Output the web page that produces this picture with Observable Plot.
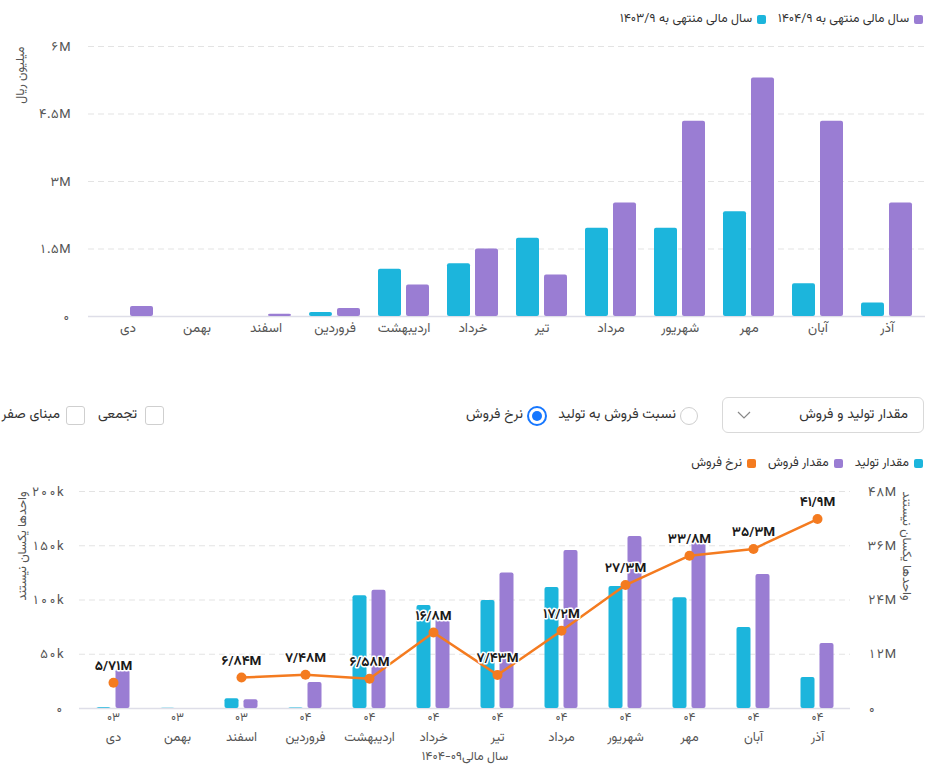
<!DOCTYPE html>
<html><head><meta charset="utf-8">
<script src="https://cdn.jsdelivr.net/npm/d3@7"></script>
<script src="https://cdn.jsdelivr.net/npm/@observablehq/plot@0.6"></script>
<style>
body{margin:0;background:#fff;}
#wrap{position:relative;width:952px;height:770px;overflow:hidden;font-family:"Vazirmatn","Noto Sans Arabic","DejaVu Sans",sans-serif;color:#333;}
.abs{position:absolute;}
.legend{position:absolute;display:flex;flex-direction:row;direction:rtl;align-items:center;gap:12px;font-size:12.5px;color:#333;white-space:nowrap;}
.legend .item{display:flex;align-items:center;gap:5px;}
.legend .sw{width:9px;height:9px;border-radius:2px;display:inline-block;}
.lbl{position:absolute;font-size:14px;color:#333;white-space:nowrap;direction:rtl;line-height:20px;}
.box{position:absolute;width:17px;height:17px;border:1px solid #cfcfcf;border-radius:3px;background:#fff;}
.radio{position:absolute;width:18px;height:18px;border:1px solid #cfcfcf;border-radius:50%;background:#fff;box-sizing:border-box;}
.radio.on{border:2px solid #1677ff;}
.radio.on::after{content:"";position:absolute;left:3px;top:3px;width:10px;height:10px;border-radius:50%;background:#1677ff;}
.select{position:absolute;left:722px;top:397px;width:202px;height:36px;border:1px solid #d9d9d9;border-radius:6px;box-sizing:border-box;}
</style></head>
<body><div id="wrap">
<div id="topChart" class="abs" style="left:0;top:0"></div>
<div id="botChart" class="abs" style="left:0;top:470px"></div>
<div id="topLegend" class="legend" style="right:29px;top:9px;"></div>
<div id="botLegend" class="legend" style="right:29px;top:453px;"></div>
<div id="controls"></div>
</div>
<script>
const FONT = '"Vazirmatn","Noto Sans Arabic","DejaVu Sans",sans-serif';
const CYAN = "#1cb5dc", PURPLE = "#9a7dd3", ORANGE = "#f47b20";

// ---- data ----
const months = ["دی","بهمن","اسفند","فروردین","اردیبهشت","خرداد","تیر","مرداد","شهریور","مهر","آبان","آذر"];
const yearCodes = ["۰۳","۰۳","۰۳","۰۴","۰۴","۰۴","۰۴","۰۴","۰۴","۰۴","۰۴","۰۴"];
// top chart, million rials
const prevYear = [0, 0, 0, 0.09, 1.05, 1.17, 1.74, 1.96, 1.96, 2.33, 0.73, 0.3];
const currYear = [0.22, 0, 0.05, 0.18, 0.7, 1.5, 0.92, 2.52, 4.34, 5.3, 4.34, 2.52];
const topTicks = [0, 1.5, 3, 4.5, 6];
const topSeriesNames = ["سال مالی منتهی به ۱۴۰۴/۹", "سال مالی منتهی به ۱۴۰۳/۹"];
// bottom chart, thousand units and million rials
const production = [0.8, 0.3, 9, 0.5, 104, 95, 99.5, 111.5, 112.4, 102, 74.6, 28.6];
const sales = [35.7, 0, 8, 24, 109, 82, 125, 145.6, 158.5, 153, 123.5, 60];
const rate = [5.71, null, 6.84, 7.48, 6.58, 16.8, 7.43, 17.2, 27.3, 33.8, 35.3, 41.9];
const leftTicks = [0, 50, 100, 150, 200];
const rightTicks = [0, 12, 24, 36, 48];
const botSeriesNames = ["مقدار تولید", "مقدار فروش", "نرخ فروش"];
const unitLabel = "واحدها یکسان نیستند";
const topYLabel = "میلیون ریال";
const xTitle = "سال مالی۰۹-۱۴۰۴";

const faDigits = "۰۱۲۳۴۵۶۷۸۹";
const fa = s => String(s).replace(/[0-9]/g, d => faDigits[+d]);

// ---- top chart ----
const prevRows = months.map((m, i) => ({month: m, v: prevYear[i]}));
const currRows = months.map((m, i) => ({month: m, v: currYear[i]}));
const topPlot = Plot.plot({
  width: 952, height: 345,
  marginTop: 46, marginBottom: 29, marginLeft: 88, marginRight: 27,
  style: {fontFamily: FONT, fontSize: "13px", color: "#555", background: "transparent"},
  x: {domain: months, paddingInner: 0.67, paddingOuter: 0.335, axis: null},
  y: {domain: [0, 6], axis: null},
  marks: [
    Plot.ruleY(topTicks.filter(d => d > 0), {stroke: "#e3e3e3", strokeDasharray: "6,4"}),
    Plot.ruleY([0], {stroke: "#dedee8", strokeWidth: 1.5}),
    Plot.barY(prevRows, {x: "month", y: "v", fill: CYAN, dx: -14, rx: 2}),
    Plot.barY(currRows, {x: "month", y: "v", fill: PURPLE, dx: 14, rx: 2}),
    Plot.axisX({tickSize: 0, tickPadding: 6, fontSize: 13.5, fill: "#555", label: null}),
    Plot.axisY({ticks: topTicks, tickSize: 0, tickPadding: 18, fontSize: 13, fill: "#555", label: null,
      tickFormat: d => d === 0 ? "۰" : fa(d) + "M"}),
    Plot.text([topYLabel], {frameAnchor: "top-left", rotate: -90, textAnchor: "end", dx: -73, fontSize: 12.5, fill: "#555"})
  ]
});
document.getElementById("topChart").appendChild(topPlot);

// ---- bottom chart ----
const ratio = leftTicks[leftTicks.length - 1] / rightTicks[rightTicks.length - 1];
const prodRows = months.map((m, i) => ({month: m, v: production[i]}));
const salesRows = months.map((m, i) => ({month: m, v: sales[i]}));
const rateRows = months.map((m, i) => ({month: m, r: rate[i], y: rate[i] == null ? NaN : rate[i] * ratio,
  label: rate[i] == null ? "" : fa(String(rate[i]).replace(".", "/")) + "M"}));
const codeOf = new Map(months.map((m, i) => [m, yearCodes[i]]));
const botPlot = Plot.plot({
  width: 952, height: 300,
  marginTop: 21, marginBottom: 62, marginLeft: 79, marginRight: 102,
  style: {fontFamily: FONT, fontSize: "13px", color: "#555", background: "transparent"},
  x: {domain: months, paddingInner: 0.782, paddingOuter: 0.391, axis: null},
  y: {domain: [0, 200], axis: null},
  marks: [
    Plot.ruleY(leftTicks.filter(d => d > 0), {stroke: "#e3e3e3", strokeDasharray: "6,4"}),
    Plot.ruleY([0], {stroke: "#dedee8", strokeWidth: 1.5}),
    Plot.barY(prodRows, {x: "month", y: "v", fill: CYAN, dx: -9.5, rx: 2}),
    Plot.barY(salesRows, {x: "month", y: "v", fill: PURPLE, dx: 9.5, rx: 2}),
    Plot.line(rateRows, {x: "month", y: "y", stroke: ORANGE, strokeWidth: 2.5}),
    Plot.dot(rateRows.filter(d => d.r != null), {x: "month", y: "y", r: 5, fill: ORANGE}),
    Plot.text(rateRows.filter(d => d.r != null), {x: "month", y: "y", text: "label", dy: -17,
      fontWeight: "bold", fontSize: 13.5, fill: "#1a1a1a", stroke: "white", strokeWidth: 3}),
    Plot.axisY({ticks: leftTicks, anchor: "left", tickSize: 0, tickPadding: 16, fontSize: 13, fill: "#555", label: null,
      tickFormat: d => d === 0 ? "۰" : fa(d) + "k"}),
    Plot.axisY({ticks: rightTicks.map(d => d * ratio), anchor: "right", tickSize: 0, tickPadding: 17, fontSize: 13, fill: "#555", label: null,
      tickFormat: d => d === 0 ? "۰" : fa(Math.round(d / ratio)) + "M"}),
    Plot.axisX({tickSize: 0, tickPadding: 4, fontSize: 12, fill: "#555", label: null,
      tickFormat: d => codeOf.get(d)}),
    Plot.axisX({tickSize: 0, tickPadding: 23, fontSize: 13, fill: "#555", label: null}),
    Plot.text([xTitle], {frameAnchor: "bottom", dy: 51, fontSize: 12.5, fill: "#555"}),
    Plot.text([unitLabel], {frameAnchor: "top-left", rotate: -90, textAnchor: "end", dx: -62, fontSize: 12.5, fill: "#555"}),
    Plot.text([unitLabel], {frameAnchor: "top-right", rotate: 90, textAnchor: "start", dx: 61, fontSize: 12.5, fill: "#555"})
  ]
});
document.getElementById("botChart").appendChild(botPlot);

// ---- legends ----
function legend(el, items) {
  const root = document.getElementById(el);
  items.forEach(([name, color]) => {
    const it = document.createElement("div"); it.className = "item";
    const sw = document.createElement("span"); sw.className = "sw"; sw.style.background = color;
    const t = document.createElement("span"); t.textContent = name;
    it.appendChild(sw); it.appendChild(t); root.appendChild(it);
  });
}
legend("topLegend", [[topSeriesNames[0], PURPLE], [topSeriesNames[1], CYAN]]);
legend("botLegend", [[botSeriesNames[0], CYAN], [botSeriesNames[1], PURPLE], [botSeriesNames[2], ORANGE]]);

// ---- controls ----
const controls = document.getElementById("controls");
controls.innerHTML = `
  <div class="select">
    <svg class="abs" style="left:14px;top:13px" width="14" height="9"><path d="M1 1 L7 7 L13 1" fill="none" stroke="#888" stroke-width="1.2"/></svg>
    <div class="lbl" style="right:15px;top:7px">مقدار تولید و فروش</div>
  </div>
  <div class="radio" style="left:680px;top:407px"></div>
  <div class="lbl" style="right:276px;top:405px">نسبت فروش به تولید</div>
  <div class="radio on" style="left:527px;top:406px;width:20px;height:20px"></div>
  <div class="lbl" style="right:429px;top:405px">نرخ فروش</div>
  <div class="box" style="left:145px;top:406px"></div>
  <div class="lbl" style="right:815px;top:405px">تجمعی</div>
  <div class="box" style="left:66px;top:406px"></div>
  <div class="lbl" style="right:892px;top:405px">مبنای صفر</div>
`;
</script>
</body></html>
